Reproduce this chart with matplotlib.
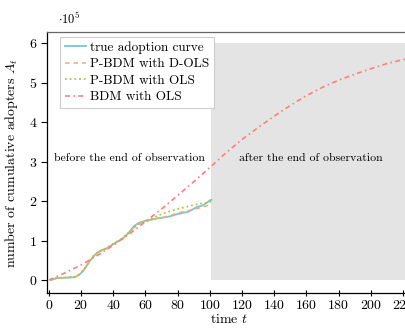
import matplotlib

matplotlib.use("Agg")

import matplotlib.pyplot as plt
from matplotlib.patches import Rectangle

# observed adoption (in units of 1e5)
true_t = [1, 5, 10, 16, 19, 21, 23, 25, 27.5, 30, 33, 36, 40, 43, 46, 50, 53, 56,
          60, 64, 67, 71, 75, 79, 83, 86, 89, 92, 95, 98, 100, 101]
true_A = [0.00, 0.05, 0.06, 0.07, 0.14, 0.22, 0.33, 0.46, 0.59, 0.69, 0.76, 0.80,
          0.91, 0.98, 1.05, 1.22, 1.37, 1.45, 1.50, 1.53, 1.56, 1.58, 1.61, 1.66,
          1.70, 1.72, 1.78, 1.85, 1.88, 1.95, 2.02, 2.03]

# P-BDM fitted with D-OLS
dols_t = [1, 5, 10, 16, 19, 22, 25, 28, 31, 35, 40, 45, 50, 54, 58, 62, 66, 70,
          75, 80, 85, 90, 95, 98, 101]
dols_A = [0.00, 0.04, 0.06, 0.07, 0.13, 0.27, 0.45, 0.62, 0.71, 0.78, 0.90, 1.03,
          1.20, 1.38, 1.46, 1.51, 1.55, 1.58, 1.62, 1.70, 1.74, 1.79, 1.84, 1.88, 1.93]

# P-BDM fitted with OLS
ols_t = [1, 5, 10, 16, 19, 22, 25, 28, 31, 35, 40, 45, 50, 54, 58, 62, 66, 70,
         75, 80, 85, 90, 95, 98, 101]
ols_A = [0.00, 0.05, 0.06, 0.08, 0.15, 0.28, 0.47, 0.63, 0.72, 0.80, 0.92, 1.04,
         1.21, 1.37, 1.46, 1.52, 1.60, 1.67, 1.74, 1.80, 1.85, 1.90, 1.94, 1.96, 1.99]

# BDM fitted with OLS, extrapolated
bdm_t = [0, 10, 20, 30, 40, 50, 60, 70, 80, 90, 100, 110, 120, 130, 140, 150,
         160, 170, 180, 190, 200, 210, 220, 226]
bdm_A = [0.00, 0.18, 0.38, 0.62, 0.88, 1.17, 1.48, 1.80, 2.14, 2.49, 2.85, 3.22,
         3.56, 3.86, 4.15, 4.42, 4.67, 4.88, 5.06, 5.21, 5.35, 5.48, 5.58, 5.63]

obs_end = 101
box_top = 6

plt.rcParams["font.family"] = ["cmr10", "DejaVu Serif"]
plt.rcParams["mathtext.fontset"] = "cm"
plt.rcParams["axes.formatter.use_mathtext"] = True
plt.rcParams["font.size"] = 10

fig = plt.figure(figsize=(4.06, 3.30), dpi=100)
ax = fig.add_axes([0.1158, 0.112, 0.8965, 0.791])

ax.add_patch(Rectangle((obs_end, 0), 240 - obs_end, box_top,
                       facecolor="#e4e4e4", edgecolor="none", zorder=0))

ax.plot(true_t, true_A, color="#7cc4d6", lw=1.3, label="true adoption curve", zorder=3)
ax.plot(dols_t, dols_A, color="#fba57a", lw=1.1, ls=(0, (3, 2.5)),
        label="P-BDM with D-OLS", zorder=4)
ax.plot(ols_t, ols_A, color="#a8cc3c", lw=1.3, ls=(0, (1, 1.6)),
        label="P-BDM with OLS", zorder=4)
ax.plot(bdm_t, bdm_A, color="#ff7f7f", lw=1.2, ls=(0, (3, 2, 1, 2)),
        label="BDM with OLS", zorder=4)

ax.text(50, 3.09, "before the end of observation", fontsize=8.5,
        ha="center", va="center")
ax.text(163, 3.09, "after the end of observation", fontsize=8.5,
        ha="center", va="center")

ax.set_xlim(-1.2, 225)
ax.set_ylim(-0.33, 6.28)
ax.set_xticks(range(0, 221, 20))
ax.set_yticks(range(0, 7))
ax.tick_params(axis="x", direction="inout", length=5, width=0.8, pad=1.5,
               top=False)
ax.tick_params(axis="y", direction="out", length=4, width=0.8, pad=3,
               right=False)
for side in ["left", "bottom", "top"]:
    ax.spines[side].set_linewidth(0.9)
ax.spines["top"].set_color("#666666")
ax.spines["right"].set_visible(False)

ax.set_xlabel("time $t$", labelpad=1)
ax.set_ylabel("number of cumulative adopters $A_t$", labelpad=6)
ax.text(0.03, 1.02, r"$\cdot 10^5$", transform=ax.transAxes, fontsize=9,
        ha="left", va="bottom")

leg = ax.legend(loc="upper left", bbox_to_anchor=(0.036, 0.982),
                borderaxespad=0, fancybox=False, framealpha=1,
                edgecolor="#cccccc", handlelength=1.6, handletextpad=0.35,
                labelspacing=0.32, borderpad=0.35, fontsize=9.5)
leg.get_frame().set_linewidth(0.8)

fig.savefig("out.png", dpi=100)
